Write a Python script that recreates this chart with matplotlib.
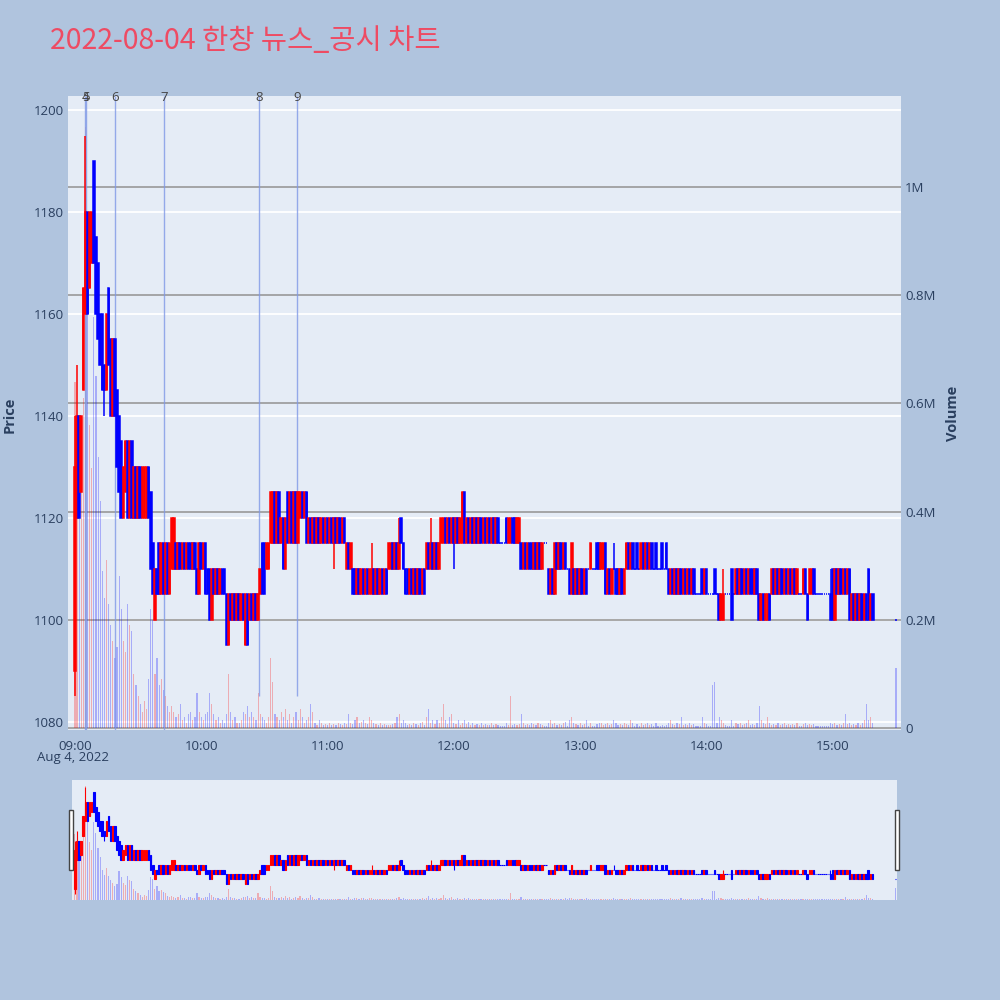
import matplotlib
matplotlib.use("Agg")
import matplotlib.pyplot as plt
from matplotlib.lines import Line2D
from matplotlib.patches import Rectangle
from matplotlib.transforms import blended_transform_factory

plt.rcParams['font.family'] = ['Open Sans', 'Noto Sans CJK KR', 'DejaVu Sans']

# ====== DATA ======
TITLE = "2022-08-04 한창 뉴스_공시 차트"

# minute index from 09:00 (0..379 = 09:00..15:19, 390 = 15:30 closing auction)
minutes = list(range(380)) + [390]

open_px = [
    1090, 1120, 1140, 1125, 1145, 1160, 1180, 1165, 1170, 1190,
    1175, 1170, 1160, 1160, 1150, 1145, 1165, 1155, 1140, 1155,
    1145, 1140, 1135, 1120, 1125, 1135, 1120, 1135, 1120, 1130,
    1120, 1130, 1120, 1120, 1120, 1130, 1125, 1115, 1100, 1110,
    1115, 1105, 1115, 1105, 1115, 1105, 1110, 1110, 1115, 1110,
    1115, 1110, 1115, 1110, 1115, 1115, 1110, 1115, 1110, 1105,
    1115, 1110, 1115, 1110, 1110, 1100, 1110, 1105, 1110, 1105,
    1110, 1110, 1105, 1095, 1105, 1100, 1105, 1100, 1105, 1100,
    1105, 1095, 1105, 1100, 1105, 1100, 1105, 1100, 1105, 1115,
    1115, 1110, 1110, 1115, 1115, 1125, 1115, 1125, 1115, 1120,
    1110, 1125, 1115, 1125, 1115, 1125, 1115, 1120, 1125, 1120,
    1125, 1115, 1120, 1115, 1120, 1115, 1120, 1115, 1120, 1115,
    1120, 1115, 1120, 1115, 1120, 1115, 1120, 1115, 1120, 1110,
    1115, 1110, 1110, 1110, 1105, 1110, 1105, 1110, 1105, 1110,
    1105, 1105, 1110, 1105, 1110, 1105, 1110, 1105, 1110, 1110,
    1110, 1115, 1110, 1115, 1110, 1120, 1115, 1110, 1110, 1105,
    1110, 1105, 1110, 1105, 1110, 1105, 1110, 1110, 1115, 1110,
    1115, 1110, 1115, 1110, 1115, 1115, 1120, 1115, 1120, 1115,
    1120, 1115, 1120, 1115, 1115, 1125, 1115, 1120, 1115, 1120,
    1115, 1120, 1115, 1120, 1115, 1120, 1115, 1120, 1115, 1120,
    1115, 1120, 1115, 1115, 1115, 1120, 1115, 1115, 1120, 1120,
    1115, 1115, 1115, 1110, 1115, 1110, 1115, 1115, 1110, 1115,
    1110, 1115, 1110, 1115, 1115, 1110, 1105, 1110, 1105, 1115,
    1110, 1115, 1110, 1115, 1110, 1110, 1105, 1110, 1105, 1110,
    1105, 1110, 1105, 1110, 1110, 1110, 1110, 1110, 1115, 1115,
    1110, 1110, 1115, 1105, 1110, 1105, 1110, 1110, 1110, 1105,
    1110, 1105, 1110, 1115, 1110, 1115, 1110, 1115, 1110, 1110,
    1115, 1110, 1115, 1110, 1115, 1110, 1115, 1110, 1110, 1115,
    1110, 1115, 1110, 1105, 1110, 1105, 1110, 1105, 1110, 1105,
    1110, 1105, 1110, 1105, 1110, 1105, 1105, 1105, 1110, 1105,
    1110, 1105, 1105, 1105, 1110, 1105, 1105, 1100, 1100, 1105,
    1105, 1105, 1110, 1105, 1105, 1110, 1105, 1110, 1105, 1110,
    1105, 1110, 1110, 1105, 1110, 1105, 1100, 1105, 1100, 1100,
    1105, 1105, 1110, 1105, 1110, 1105, 1110, 1105, 1110, 1105,
    1110, 1105, 1110, 1105, 1105, 1105, 1105, 1110, 1105, 1105,
    1105, 1110, 1105, 1105, 1105, 1105, 1105, 1105, 1105, 1105,
    1110, 1100, 1110, 1105, 1110, 1105, 1110, 1105, 1110, 1100,
    1105, 1100, 1105, 1100, 1105, 1100, 1105, 1110, 1100, 1105,
    1100,
]

close_px = [
    1130, 1140, 1120, 1140, 1165, 1180, 1160, 1180, 1180, 1170,
    1160, 1155, 1150, 1145, 1145, 1160, 1150, 1140, 1155, 1140,
    1130, 1125, 1120, 1130, 1135, 1120, 1135, 1120, 1130, 1120,
    1130, 1120, 1130, 1130, 1130, 1120, 1110, 1105, 1110, 1105,
    1105, 1115, 1105, 1115, 1105, 1115, 1120, 1120, 1110, 1115,
    1110, 1115, 1110, 1115, 1110, 1110, 1115, 1110, 1105, 1115,
    1110, 1115, 1105, 1105, 1100, 1110, 1105, 1110, 1105, 1110,
    1105, 1105, 1095, 1105, 1100, 1105, 1100, 1105, 1100, 1105,
    1100, 1105, 1095, 1105, 1100, 1105, 1100, 1105, 1110, 1105,
    1105, 1115, 1115, 1125, 1125, 1115, 1125, 1115, 1120, 1110,
    1120, 1115, 1125, 1115, 1125, 1115, 1125, 1125, 1120, 1125,
    1115, 1120, 1115, 1120, 1115, 1120, 1115, 1120, 1115, 1120,
    1115, 1120, 1115, 1120, 1115, 1120, 1115, 1120, 1115, 1115,
    1110, 1115, 1105, 1105, 1110, 1105, 1110, 1105, 1110, 1105,
    1110, 1110, 1105, 1110, 1105, 1110, 1105, 1110, 1105, 1115,
    1115, 1110, 1115, 1110, 1115, 1115, 1110, 1105, 1105, 1110,
    1105, 1110, 1105, 1110, 1105, 1110, 1105, 1115, 1110, 1115,
    1110, 1115, 1110, 1115, 1120, 1120, 1115, 1120, 1115, 1120,
    1115, 1120, 1115, 1120, 1125, 1115, 1120, 1115, 1120, 1115,
    1120, 1115, 1120, 1115, 1120, 1115, 1120, 1115, 1120, 1115,
    1120, 1115, 1115, 1115, 1115, 1115, 1120, 1120, 1115, 1115,
    1120, 1120, 1110, 1115, 1110, 1115, 1110, 1110, 1115, 1110,
    1115, 1110, 1115, 1115, 1115, 1105, 1110, 1105, 1115, 1110,
    1115, 1110, 1115, 1110, 1110, 1105, 1115, 1105, 1110, 1105,
    1110, 1105, 1110, 1105, 1110, 1115, 1110, 1110, 1110, 1110,
    1115, 1115, 1105, 1110, 1105, 1110, 1110, 1105, 1105, 1110,
    1105, 1110, 1115, 1110, 1115, 1110, 1110, 1110, 1110, 1115,
    1110, 1115, 1110, 1115, 1110, 1110, 1110, 1110, 1110, 1110,
    1110, 1110, 1105, 1110, 1105, 1110, 1105, 1110, 1105, 1110,
    1105, 1110, 1105, 1110, 1105, 1105, 1105, 1105, 1105, 1110,
    1105, 1105, 1105, 1105, 1105, 1105, 1100, 1105, 1105, 1105,
    1105, 1105, 1100, 1105, 1110, 1105, 1110, 1105, 1110, 1105,
    1110, 1105, 1105, 1110, 1105, 1100, 1105, 1100, 1105, 1105,
    1100, 1110, 1105, 1110, 1105, 1110, 1105, 1110, 1105, 1110,
    1105, 1110, 1105, 1110, 1105, 1105, 1110, 1105, 1100, 1110,
    1110, 1105, 1105, 1105, 1105, 1105, 1105, 1105, 1105, 1100,
    1100, 1110, 1105, 1110, 1105, 1110, 1105, 1110, 1100, 1105,
    1100, 1105, 1100, 1105, 1100, 1105, 1100, 1100, 1105, 1100,
    1100,
]

# wick extremes that reach beyond the candle body (minute -> price)
wick_high = {0: 1140, 1: 1150, 5: 1195, 141: 1115, 154: 1120, 169: 1120,
             256: 1115, 308: 1110, 359: 1110}
wick_low = {0: 1085, 14: 1140, 72: 1095, 81: 1095, 123: 1110, 180: 1110}

# volume in thousands of shares
volume_k = [
    640, 560, 420, 470, 610, 1110, 830, 560, 480, 760,
    650, 500, 420, 290, 240, 310, 230, 190, 160, 130,
    150, 280, 220, 160, 140, 230, 190, 180, 100, 80,
    60, 45, 30, 50, 35, 90, 220, 200, 100, 130,
    80, 90, 70, 60, 40, 30, 40, 30, 20, 25,
    45, 15, 20, 10, 25, 30, 15, 20, 65, 30,
    20, 15, 25, 30, 65, 45, 25, 15, 20, 10,
    15, 10, 25, 100, 30, 15, 20, 10, 10, 15,
    30, 25, 40, 20, 30, 20, 15, 65, 25, 20,
    15, 10, 20, 130, 85, 25, 20, 15, 30, 20,
    35, 15, 25, 10, 20, 30, 15, 35, 20, 10,
    15, 20, 45, 30, 10, 5, 15, 10, 5, 8,
    5, 10, 5, 8, 5, 10, 8, 5, 10, 8,
    25, 10, 8, 15, 20, 10, 12, 15, 10, 8,
    20, 15, 10, 8, 5, 10, 5, 8, 5, 5,
    5, 8, 10, 20, 25, 10, 15, 10, 5, 8,
    5, 10, 8, 5, 10, 12, 5, 20, 35, 10,
    15, 8, 15, 10, 20, 45, 15, 8, 20, 25,
    10, 8, 15, 5, 10, 15, 8, 12, 5, 10,
    5, 8, 5, 10, 5, 8, 5, 5, 10, 5,
    8, 5, 3, 3, 3, 10, 5, 60, 5, 8,
    5, 8, 25, 10, 5, 8, 5, 10, 8, 5,
    10, 8, 5, 3, 3, 10, 15, 8, 10, 5,
    8, 5, 10, 12, 3, 15, 20, 10, 8, 5,
    10, 5, 8, 15, 3, 10, 3, 3, 8, 10,
    10, 5, 8, 10, 5, 8, 15, 10, 5, 8,
    5, 10, 8, 5, 15, 10, 3, 8, 3, 10,
    5, 8, 10, 5, 8, 3, 10, 3, 3, 5,
    3, 5, 10, 15, 8, 5, 10, 8, 20, 5,
    8, 5, 10, 5, 8, 3, 3, 3, 20, 10,
    8, 3, 3, 80, 85, 10, 20, 15, 10, 5,
    3, 3, 15, 3, 10, 8, 10, 5, 8, 10,
    15, 5, 8, 5, 10, 40, 15, 10, 8, 20,
    10, 5, 8, 5, 10, 5, 8, 10, 5, 8,
    5, 8, 5, 10, 3, 3, 8, 10, 5, 8,
    5, 8, 3, 3, 3, 3, 3, 3, 3, 10,
    8, 10, 5, 8, 5, 10, 25, 8, 10, 5,
    8, 5, 10, 5, 10, 15, 45, 15, 20, 10,
    110,
]

# news / disclosure markers
event_labels = ["4", "5", "6", "7", "8", "9"]
event_minutes = [5.0, 5.4, 19.0, 42.4, 87.6, 105.7]
event_bottom = [1078.4, 1078.4, 1078.4, 1078.4, 1085, 1085]

hour_ticks = [0, 60, 120, 180, 240, 300, 360]
hour_labels = ["09:00", "10:00", "11:00", "12:00", "13:00", "14:00", "15:00"]

# ====== STYLE ======
BG = "#B0C4DE"
PLOT_BG = "#E5ECF6"
FONT_C = "#2a3f5f"
UP = "#FF0000"
DOWN = "#0000FF"

colors = [UP if c > o else DOWN for o, c in zip(open_px, close_px)]
highs = [wick_high.get(m, max(o, c)) for m, o, c in zip(minutes, open_px, close_px)]
lows = [wick_low.get(m, min(o, c)) for m, o, c in zip(minutes, open_px, close_px)]
body_lo = [min(o, c) for o, c in zip(open_px, close_px)]
body_h = [abs(c - o) for o, c in zip(open_px, close_px)]

P_LIM = (1078.4, 1202.75)
V_LIM = (-3.7, 1168)


def draw_chart(ax_v, ax_p, lw_body, lw_wick):
    ax_v.bar(minutes, volume_k, width=0.55, color=colors, alpha=0.27,
             linewidth=0, zorder=1)
    ax_p.vlines(minutes, lows, highs, colors=colors, linewidth=lw_wick, zorder=2)
    ax_p.bar(minutes, body_h, bottom=body_lo, width=0.75, color=colors,
             edgecolor=colors, linewidth=lw_body, zorder=3)
    ax_v.set_ylim(*V_LIM)
    ax_p.set_ylim(*P_LIM)
    for a in (ax_v, ax_p):
        for s in a.spines.values():
            s.set_visible(False)


fig = plt.figure(figsize=(10, 10), dpi=100, facecolor=BG)

# ====== MAIN CHART ======
ax_v = fig.add_axes([0.068, 0.27, 0.833, 0.634])
ax_v.set_facecolor(PLOT_BG)
ax_p = ax_v.twinx()
ax_p.patch.set_visible(False)

draw_chart(ax_v, ax_p, 1.1, 1.1)
ax_v.set_xlim(-3.3, 392.4)

# white price grid under the volume grid
tr = blended_transform_factory(ax_v.transAxes, ax_p.transData)
for p in range(1080, 1201, 20):
    ax_v.add_line(Line2D([0, 1], [p, p], transform=tr, color="white",
                         linewidth=1.3, zorder=0.3))
ax_v.set_axisbelow(True)
ax_v.yaxis.grid(True, color="#999999", linewidth=1.2)

ax_v.yaxis.tick_right()
ax_v.set_yticks([0, 200, 400, 600, 800, 1000])
ax_v.set_yticklabels(["0", "0.2M", "0.4M", "0.6M", "0.8M", "1M"])
ax_p.yaxis.tick_left()
ax_p.set_yticks(range(1080, 1201, 20))

ax_v.set_xticks(hour_ticks)
ax_v.set_xticklabels(hour_labels)
ax_v.tick_params(axis="x", length=0, pad=7, labelsize=9.5, labelcolor=FONT_C)
ax_v.tick_params(axis="y", length=0, pad=3, labelsize=9.5, labelcolor=FONT_C)
ax_p.tick_params(axis="y", length=0, pad=3, labelsize=9.5, labelcolor=FONT_C)

# event lines and labels
tr_lbl = blended_transform_factory(ax_p.transData, ax_p.transAxes)
for lbl, t, b in zip(event_labels, event_minutes, event_bottom):
    ax_p.vlines(t, b, P_LIM[1], colors="#7f98e6", linewidth=1, alpha=0.8, zorder=1.5)
    ax_p.text(t, 0.998, lbl, transform=tr_lbl, ha="center", va="center",
              fontsize=9.5, color="#444444")

fig.text(0.05, 0.959, TITLE, fontsize=20.5, color="#EE4B63",
         family=["Noto Sans CJK KR"], ha="left", va="center")
fig.text(0.037, 1 - 0.758, "Aug 4, 2022", fontsize=9.5, color=FONT_C,
         ha="left", va="center")
fig.text(0.01, 1 - 0.415, "Price", rotation=90, fontsize=10.5, color=FONT_C,
         fontweight="bold", ha="center", va="center")
fig.text(0.953, 1 - 0.413, "Volume", rotation=90, fontsize=10.5, color=FONT_C,
         fontweight="bold", ha="center", va="center")

# ====== RANGE SLIDER ======
sv = fig.add_axes([0.0717, 0.10, 0.825, 0.12])
sv.set_facecolor(PLOT_BG)
sp = sv.twinx()
sp.patch.set_visible(False)
draw_chart(sv, sp, 0.8, 0.8)
sv.set_xlim(-1.5, 390.5)
for a in (sv, sp):
    a.set_xticks([])
    a.set_yticks([])

for x0 in (0.069, 0.895):
    fig.patches.append(Rectangle((x0, 0.13), 0.004, 0.06, transform=fig.transFigure,
                                 facecolor="white", edgecolor="#444444",
                                 linewidth=1, zorder=5))

fig.savefig("out.png", dpi=100, facecolor=BG)
